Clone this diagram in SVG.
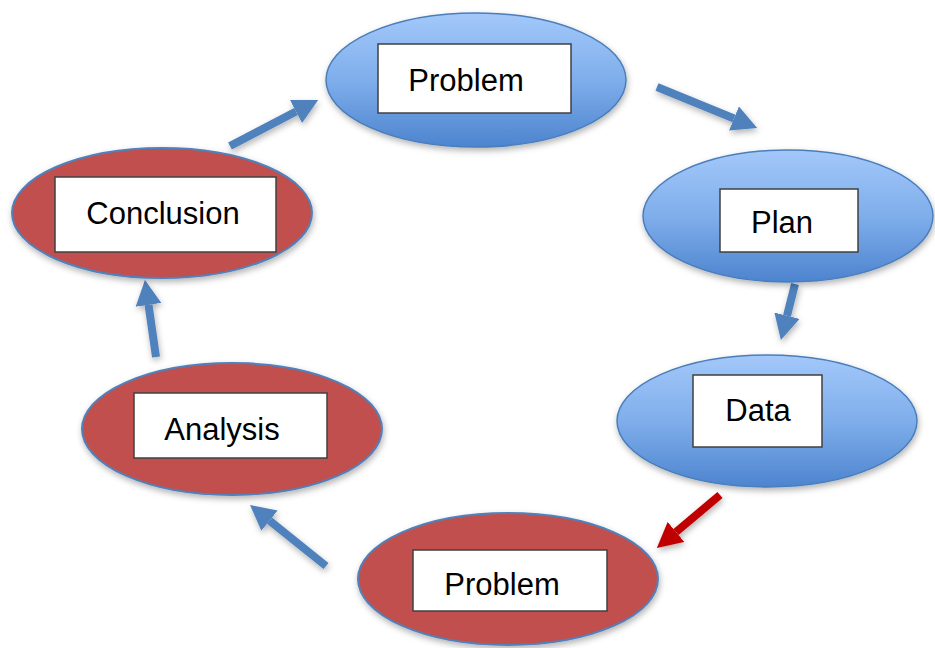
<svg xmlns="http://www.w3.org/2000/svg" width="935" height="648" viewBox="0 0 935 648">
<style>
.blue{fill:url(#gBlue);stroke:#4A7EBB;stroke-width:1.5}
.red{fill:#C0504D;stroke:#4F81BD;stroke-width:2}
.box{fill:#FFFFFF;stroke:#404040;stroke-width:1.5}
.lbl{font-family:"Liberation Sans",Arial,sans-serif;font-size:31px;fill:#000;text-anchor:middle}
.arr{stroke:#4F81BD;stroke-width:8;fill:none}
.arrRed{stroke:#C00000;stroke-width:8;fill:none}
</style>
<defs>
<linearGradient id="gBlue" x1="0" y1="0" x2="0" y2="1">
<stop offset="0" stop-color="#A3C8FA"/>
<stop offset="0.5" stop-color="#7FAEEB"/>
<stop offset="1" stop-color="#4D84CF"/>
</linearGradient>
<filter id="sh" x="-20%" y="-20%" width="140%" height="150%">
<feDropShadow dx="1" dy="3" stdDeviation="3" flood-color="#000" flood-opacity="0.3"/>
</filter>
<marker id="hB" markerUnits="userSpaceOnUse" viewBox="0 0 25 26" markerWidth="25" markerHeight="26" refX="0" refY="13" orient="auto">
<path d="M0,0 L25,13 L0,26 z" fill="#4F81BD"/>
</marker>
<marker id="hR" markerUnits="userSpaceOnUse" viewBox="0 0 25 26" markerWidth="25" markerHeight="26" refX="0" refY="13" orient="auto">
<path d="M0,0 L25,13 L0,26 z" fill="#C00000"/>
</marker>
</defs>
<rect width="935" height="648" fill="#FFFFFF"/>
<g id="connectors" filter="url(#sh)">
<line class="arr" x1="230" y1="146" x2="296" y2="111.5" marker-end="url(#hB)"/>
<line class="arr" x1="657" y1="87" x2="734" y2="118.5" marker-end="url(#hB)"/>
<line class="arr" x1="795" y1="284" x2="787" y2="315.7" marker-end="url(#hB)"/>
<line class="arrRed" x1="720" y1="495" x2="676" y2="532" marker-end="url(#hR)"/>
<line class="arr" x1="326" y1="566" x2="269.5" y2="520.6" marker-end="url(#hB)"/>
<line class="arr" x1="156" y1="357" x2="148.5" y2="304.8" marker-end="url(#hB)"/>
</g>
<g id="node-problem-top">
<ellipse class="blue" cx="476" cy="80" rx="150" ry="67" filter="url(#sh)"/>
<rect class="box" x="378" y="44" width="193" height="69"/>
<text class="lbl" x="466" y="91">Problem</text>
</g>
<g id="node-plan">
<ellipse class="blue" cx="788" cy="216" rx="145" ry="66" filter="url(#sh)"/>
<rect class="box" x="720" y="189" width="138" height="63"/>
<text class="lbl" x="782" y="233">Plan</text>
</g>
<g id="node-data">
<ellipse class="blue" cx="767" cy="421" rx="150" ry="66" filter="url(#sh)"/>
<rect class="box" x="693" y="375" width="129" height="72"/>
<text class="lbl" x="758" y="421">Data</text>
</g>
<g id="node-problem-bottom">
<ellipse class="red" cx="508" cy="579" rx="150" ry="66" filter="url(#sh)"/>
<rect class="box" x="413" y="550" width="194" height="61"/>
<text class="lbl" x="502" y="595">Problem</text>
</g>
<g id="node-analysis">
<ellipse class="red" cx="232" cy="429" rx="150" ry="66" filter="url(#sh)"/>
<rect class="box" x="134" y="393" width="193" height="65"/>
<text class="lbl" x="222" y="440">Analysis</text>
</g>
<g id="node-conclusion">
<ellipse class="red" cx="162" cy="213" rx="150" ry="65" filter="url(#sh)"/>
<rect class="box" x="55" y="177" width="221" height="75"/>
<text class="lbl" x="163" y="224">Conclusion</text>
</g>
</svg>
